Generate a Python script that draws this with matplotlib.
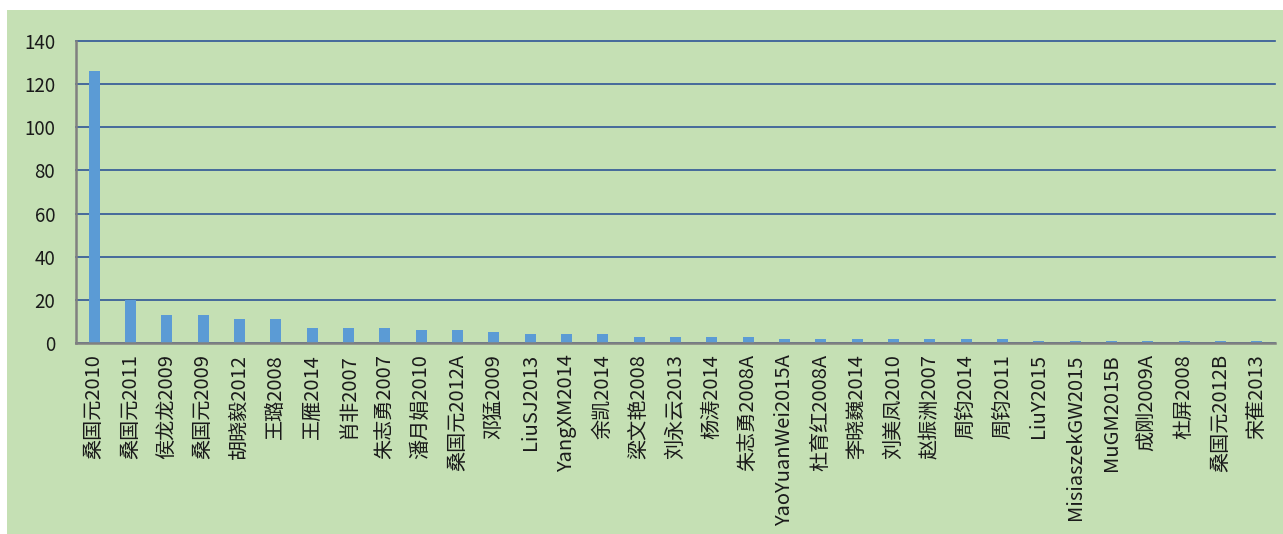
import matplotlib
matplotlib.use("Agg")
import matplotlib.pyplot as plt
from matplotlib.patches import Rectangle

plt.rcParams['font.family'] = ['Noto Sans CJK SC', 'DejaVu Sans']

# 文献 -> 被引次数
labels = ["桑国元2010", "桑国元2011", "侯龙龙2009", "桑国元2009", "胡晓毅2012",
          "王璐2008", "王雁2014", "肖非2007", "朱志勇2007", "潘月娟2010",
          "桑国元2012A", "邓猛2009", "LiuSJ2013", "YangXM2014", "余凯2014",
          "梁文艳2008", "刘永云2013", "杨涛2014", "朱志勇2008A", "YaoYuanWei2015A",
          "杜育红2008A", "李晓巍2014", "刘美凤2010", "赵振洲2007", "周钧2014",
          "周钧2011", "LiuY2015", "MisiaszekGW2015", "MuGM2015B", "成刚2009A",
          "杜屏2008", "桑国元2012B", "宋萑2013"]
values = [126, 20, 13, 13, 11, 11, 7, 7, 7, 6,
          6, 5, 4, 4, 4, 3, 3, 3, 3, 2,
          2, 2, 2, 2, 2, 2, 1, 1, 1, 1,
          1, 1, 1]
yticks = [0, 20, 40, 60, 80, 100, 120, 140]

green = "#c5e0b4"
W, H = 1283, 534

fig = plt.figure(figsize=(W / 100, H / 100), dpi=100, facecolor="white")
fig.patches.append(Rectangle((7 / W, 0), 1 - 7 / W, 1 - 10 / H,
                             transform=fig.transFigure, facecolor=green,
                             edgecolor="none", zorder=-10))

ax = fig.add_axes([76 / W, 1 - 343 / H, (1275 - 76) / W, (343 - 41) / H])
ax.set_facecolor(green)

x = range(len(labels))
ax.bar(x, values, width=0.3, color="#5b9bd5", zorder=3)

ax.set_xlim(-0.5, len(labels) - 0.5)
ax.set_ylim(0, 140)
ax.set_yticks(yticks)
ax.set_xticks(list(x))
ax.set_xticklabels(labels, rotation=90, fontsize=14.5, color="#1a1a1a")
ax.tick_params(axis="y", labelsize=13.5, colors="#1a1a1a", pad=15, length=0)
ax.tick_params(axis="x", pad=8, length=0)

ax.grid(axis="y", color="#2f5597", linewidth=1.2, zorder=1)
for gl in ax.yaxis.get_gridlines():
    gl.set_clip_on(False)
for s in ["top", "right"]:
    ax.spines[s].set_visible(False)
for s in ["left", "bottom"]:
    ax.spines[s].set_color("#808080")
    ax.spines[s].set_linewidth(1.8)
    ax.spines[s].set_zorder(4)

fig.savefig("out.png", dpi=100, facecolor=fig.get_facecolor())
